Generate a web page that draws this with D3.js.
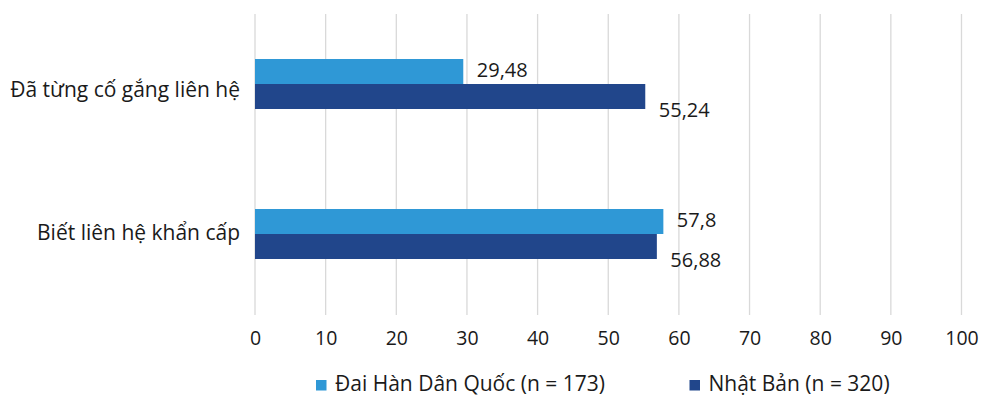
<!DOCTYPE html>
<html>
<head>
<meta charset="utf-8">
<script src="https://cdn.jsdelivr.net/npm/d3@7"></script>
<style>
  html, body { margin: 0; padding: 0; background: #fff; }
  svg { display: block; font-family: "Open Sans", "Noto Sans", sans-serif; }
</style>
</head>
<body>
<svg id="chart" width="984" height="396"></svg>
<script>
// Categories (top to bottom) and the two survey groups
const categories = ["Đã từng cố gắng liên hệ", "Biết liên hệ khẩn cấp"];
const seriesNames = ["Đai Hàn Dân Quốc (n = 173)", "Nhật Bản (n = 320)"];
const koreaValues = [29.48, 57.8];
const japanValues = [55.24, 56.88];
const xTicks = [0, 10, 20, 30, 40, 50, 60, 70, 80, 90, 100];
const colors = ["#2f98d6", "#21468b"];

const series = [koreaValues, japanValues];
const fmt = v => String(v).replace(".", ",");

const svg = d3.select("#chart");
const textColor = "#1a1a1a";

const x = d3.scaleLinear().domain([0, 100]).range([255, 961.5]);
const y = d3.scaleBand().domain(categories).range([9, 309])
  .paddingInner(2 / 3).paddingOuter(1 / 3);
const ySub = d3.scaleBand().domain(d3.range(series.length)).range([0, y.bandwidth()]);

// Vertical gridlines
svg.append("g")
  .selectAll("line")
  .data(xTicks)
  .join("line")
  .attr("x1", d => x(d)).attr("x2", d => x(d))
  .attr("y1", 14).attr("y2", 315)
  .attr("stroke", "#d9d9d9").attr("stroke-width", 1.3);

// X axis tick labels
const xAxis = d3.axisBottom(x).tickValues(xTicks).tickSize(0).tickPadding(0);
const gx = svg.append("g").attr("transform", "translate(0,331)").call(xAxis);
gx.select(".domain").remove();
gx.selectAll("text")
  .attr("font-size", 19.5)
  .attr("font-family", "'Open Sans', 'Noto Sans', sans-serif")
  .attr("fill", textColor)
  .attr("dy", "0.72em");

// Category labels
const catDy = [13, 6.3];
svg.append("g")
  .selectAll("text")
  .data(categories)
  .join("text")
  .attr("x", 240)
  .attr("y", (d, i) => y(d) + y.bandwidth() / 2 + catDy[i])
  .attr("text-anchor", "end")
  .attr("font-size", 21)
  .attr("fill", textColor)
  .text(d => d);

// Bars
series.forEach((vals, s) => {
  const g = svg.append("g");
  g.selectAll("rect")
    .data(vals)
    .join("rect")
    .attr("x", x(0))
    .attr("y", (d, i) => y(categories[i]) + ySub(s))
    .attr("width", d => x(d) - x(0))
    .attr("height", ySub.bandwidth())
    .attr("fill", colors[s]);

  // Value labels
  const labelDy = s === 0 ? -2 : 13;
  g.selectAll("text")
    .data(vals)
    .join("text")
    .attr("x", d => x(d) + 13.5)
    .attr("y", (d, i) => y(categories[i]) + ySub(s) + ySub.bandwidth() / 2 + labelDy)
    .attr("dy", "0.36em")
    .attr("font-size", 20)
    .attr("fill", textColor)
    .text(d => fmt(d));
});

// Legend
const legendX = [316, 689.5];
const legend = svg.append("g")
  .selectAll("g")
  .data(seriesNames)
  .join("g")
  .attr("transform", (d, i) => `translate(${legendX[i]},0)`);
legend.append("rect")
  .attr("x", 0).attr("y", 380)
  .attr("width", 10.5).attr("height", 10.5)
  .attr("fill", (d, i) => colors[i]);
legend.append("text")
  .attr("x", 19).attr("y", 391)
  .attr("font-size", 21)
  .attr("fill", textColor)
  .text(d => d);
</script>
</body>
</html>
